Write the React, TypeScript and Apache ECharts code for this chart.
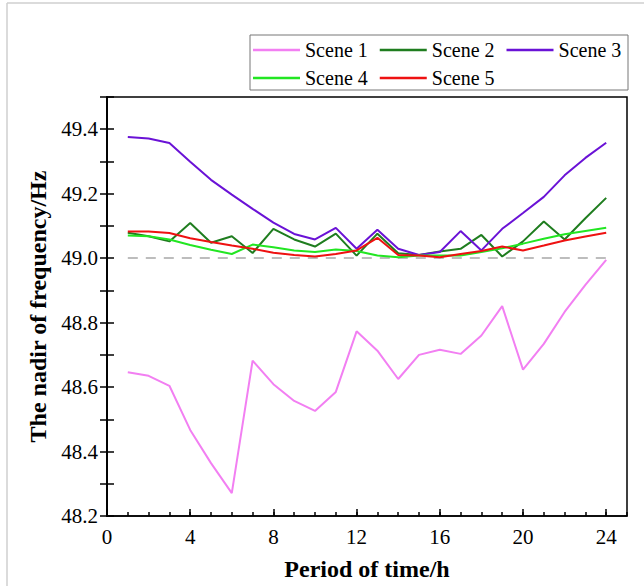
import React, { useEffect, useRef } from "react";
import * as echarts from "echarts";

const hours = [1, 2, 3, 4, 5, 6, 7, 8, 9, 10, 11, 12, 13, 14, 15, 16, 17, 18, 19, 20, 21, 22, 23, 24];
const seriesNames = ["Scene 1", "Scene 2", "Scene 3", "Scene 4", "Scene 5"];
const scene1 = [48.646, 48.635, 48.604, 48.467, 48.364, 48.271, 48.682, 48.609, 48.557, 48.526, 48.585, 48.773, 48.713, 48.625, 48.700, 48.716, 48.703, 48.760, 48.851, 48.654, 48.734, 48.833, 48.917, 48.995];
const scene2 = [49.079, 49.068, 49.052, 49.109, 49.048, 49.068, 49.016, 49.091, 49.058, 49.036, 49.076, 49.008, 49.076, 49.015, 49.010, 49.021, 49.029, 49.072, 49.005, 49.052, 49.114, 49.058, 49.124, 49.187];
const scene3 = [49.376, 49.371, 49.357, 49.299, 49.243, 49.197, 49.153, 49.110, 49.075, 49.058, 49.094, 49.029, 49.088, 49.029, 49.010, 49.019, 49.084, 49.024, 49.091, 49.140, 49.190, 49.257, 49.311, 49.358];
const scene4 = [49.070, 49.068, 49.058, 49.041, 49.026, 49.013, 49.042, 49.034, 49.024, 49.019, 49.027, 49.022, 49.008, 49.003, 49.008, 49.008, 49.008, 49.019, 49.031, 49.045, 49.060, 49.074, 49.084, 49.094];
const scene5 = [49.083, 49.083, 49.078, 49.062, 49.050, 49.039, 49.029, 49.017, 49.010, 49.005, 49.013, 49.024, 49.063, 49.010, 49.008, 49.003, 49.013, 49.022, 49.036, 49.024, 49.039, 49.055, 49.067, 49.079];
const colors = ["#f27ff2", "#1f7d1f", "#6a12d6", "#22e622", "#ee1111"];
const referenceLevel = 49.0;

const FONT = '"Liberation Serif", "Times New Roman", serif';

export default function App() {
  const ref = useRef<HTMLDivElement>(null);
  useEffect(() => {
    if (!ref.current) return;
    const chart = echarts.init(ref.current, null, { renderer: "svg" });
    const all = [scene1, scene2, scene3, scene4, scene5];
    const series: any[] = all.map((vals, i) => ({
      name: seriesNames[i],
      type: "line",
      data: hours.map((h, j) => [h, vals[j]]),
      symbol: "none",
      lineStyle: { color: colors[i], width: 2 },
      itemStyle: { color: colors[i] },
      z: 3 + i,
    }));
    series[0].markLine = {
      silent: true,
      symbol: "none",
      label: { show: false },
      lineStyle: { color: "#bdbdbd", type: [10, 8], width: 2 },
      data: [[{ coord: [hours[0], referenceLevel] }, { coord: [hours[hours.length - 1], referenceLevel] }]],
      z: 1,
    };
    const legendBase = {
      orient: "horizontal",
      icon: "rect",
      itemWidth: 47,
      itemHeight: 2.5,
      itemGap: 12,
      padding: 0,
      textStyle: { fontFamily: FONT, fontSize: 20, color: "#000" },
    };
    chart.setOption({
      animation: false,
      backgroundColor: "#fff",
      graphic: [
        { type: "line", shape: { x1: 7, y1: 3, x2: 7, y2: 586 }, style: { stroke: "#cfcfcf", lineWidth: 1.5 } },
        { type: "line", shape: { x1: 7, y1: 3, x2: 644, y2: 3 }, style: { stroke: "#cfcfcf", lineWidth: 1.5 } },
        { type: "rect", shape: { x: 250, y: 35, width: 378, height: 55 }, style: { fill: "none", stroke: "#777", lineWidth: 1 }, z: 10 },
      ],
      legend: [
        { ...legendBase, data: seriesNames.slice(0, 3), left: 253, top: 40 },
        { ...legendBase, data: seriesNames.slice(3), left: 253, top: 68 },
      ],
      grid: {
        left: 107,
        top: 97,
        width: 520,
        height: 420,
        show: true,
        borderColor: "#000",
        borderWidth: 1.5,
        backgroundColor: "transparent",
      },
      xAxis: [
        {
          type: "value",
          min: 0,
          max: 25,
          interval: 4,
          position: "bottom",
          name: "Period of time/h",
          nameLocation: "middle",
          nameGap: 41,
          nameTextStyle: { fontFamily: FONT, fontSize: 24, fontWeight: "bold", color: "#000" },
          axisLine: { show: true, lineStyle: { color: "#000", width: 1.5 } },
          axisTick: { show: true, inside: true, length: 7, lineStyle: { color: "#000", width: 1.5 } },
          axisLabel: { fontFamily: FONT, fontSize: 21, color: "#000", margin: 10, showMaxLabel: false },
          splitLine: { show: false },
        },
        {
          type: "value",
          min: 0,
          max: 25,
          interval: 1,
          position: "bottom",
          axisLine: { show: false },
          axisTick: { show: true, inside: true, length: 4, lineStyle: { color: "#000", width: 1.5 } },
          axisLabel: { show: false },
          splitLine: { show: false },
        },
      ],
      yAxis: [
        {
          type: "value",
          min: 48.2,
          max: 49.5,
          interval: 0.1,
          position: "left",
          name: "The nadir of frequency/Hz",
          nameLocation: "middle",
          nameGap: 50,
          nameTextStyle: { fontFamily: FONT, fontSize: 24, fontWeight: "bold", color: "#000" },
          axisLine: { show: true, lineStyle: { color: "#000", width: 1.5 } },
          axisTick: { show: true, inside: true, length: 7, lineStyle: { color: "#000", width: 1.5 } },
          axisLabel: {
            fontFamily: FONT,
            fontSize: 21,
            color: "#000",
            margin: 9,
            formatter: (v: number) => (Math.round(v * 10) % 2 === 0 ? v.toFixed(1) : ""),
          },
          splitLine: { show: false },
        },
        {
          type: "value",
          min: 48.2,
          max: 49.5,
          interval: 0.1,
          position: "right",
          axisLine: { show: true, lineStyle: { color: "#000", width: 1.5 } },
          axisTick: { show: true, inside: true, length: 7, lineStyle: { color: "#000", width: 1.5 } },
          axisLabel: { show: false },
          splitLine: { show: false },
        },
      ],
      series,
    });
    return () => chart.dispose();
  }, []);
  return <div ref={ref} style={{ position: "absolute", left: 0, top: 0, width: 644, height: 586 }} />;
}
